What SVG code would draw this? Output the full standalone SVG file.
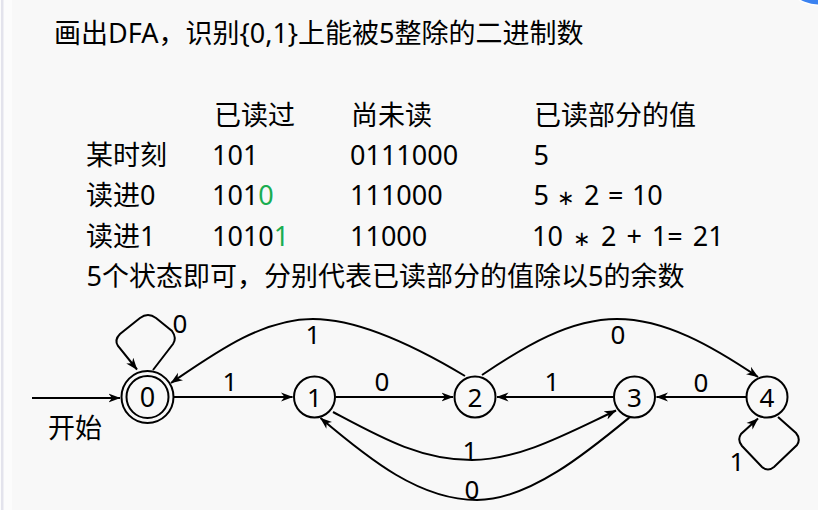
<svg xmlns="http://www.w3.org/2000/svg" width="818" height="510" viewBox="0 0 818 510">
<defs>
<style>
.t{font-family:"Noto Sans","Noto Sans CJK SC",sans-serif;font-size:27px;fill:#000}
.g{fill:#1aad50}
.s{font-size:21px}
.lbl{font-family:"Noto Sans","Noto Sans CJK SC",sans-serif;font-size:26px;fill:#000;text-anchor:middle}
.nd{fill:none;stroke:#000;stroke-width:2}
.e{fill:none;stroke:#000;stroke-width:2;marker-end:url(#arr)}
</style>
<marker id="arr" viewBox="0 0 12 10" refX="11.5" refY="5" markerWidth="12" markerHeight="10" markerUnits="userSpaceOnUse" orient="auto">
<path d="M0,0.5 L12,5 L0,9.5 L3.5,5 z" fill="#000"/>
</marker>
</defs>
<rect x="0" y="0" width="818" height="510" fill="#f8f8f8"/>
<rect x="0" y="0" width="12" height="510" fill="#fcfcfc"/>
<rect x="1" y="0" width="2.5" height="510" fill="#e3e3ec"/>
<circle cx="818" cy="-30" r="36" fill="#ffffff"/>
<circle cx="818" cy="-30" r="34.5" fill="#3b82f0"/>

<g id="text">
<text class="t" x="54" y="43">画出DFA，识别{0,1}上能被5整除的二进制数</text>
<text class="t" x="214" y="124.5">已读过</text>
<text class="t" x="351" y="124.5">尚未读</text>
<text class="t" x="534" y="124.5">已读部分的值</text>
<text class="t" x="86" y="164.5">某时刻</text>
<text class="t" x="212" y="164.5">101</text>
<text class="t" x="350" y="164.5">0111000</text>
<text class="t" x="533.5" y="164.5">5</text>
<text class="t" x="86" y="205">读进0</text>
<text class="t" x="212" y="205">101<tspan class="g">0</tspan></text>
<text class="t" x="350" y="205">111000</text>
<text class="t" x="533.5" y="205" word-spacing="1.5">5 <tspan class="s">∗</tspan> 2 = 10</text>
<text class="t" x="86" y="246">读进1</text>
<text class="t" x="212" y="246">1010<tspan class="g">1</tspan></text>
<text class="t" x="350" y="246">11000</text>
<text class="t" x="532" y="246" word-spacing="3">10 <tspan class="s">∗</tspan> 2 + 1= 21</text>
<text class="t" x="86.5" y="286">5个状态即可，分别代表已读部分的值除以5的余数</text>
<text class="t" x="48" y="438">开始</text>
</g>

<g id="connectors">
<path class="e" d="M32,398 L120,398"/>
<path class="e" d="M174,397 L292.5,397"/>
<path class="e" d="M336,397 L453,397"/>
<path class="e" d="M613,397 L497,397"/>
<path class="e" d="M746,397 L656.5,397"/>
<path class="e" d="M465,376 C420,349 362,319 313,319 C262,319 215,353 171,383"/>
<path class="e" d="M482,375 C525,346 570,319 617,319 C665,319 712,346 758,377"/>
<path class="e" d="M333,412 C380,437 420,460 472,460 C520,460 570,432 616,410.5"/>
<path class="e" d="M630,417 C590,450 530,500 477,500 C420,500 370,460 320.5,418"/>
<path class="e" d="M153,370 L173,344 Q177,338 172,331 L156,318 Q148,312 140,318 L120,334 Q114,340 118,346 L137,369.5"/>
<path class="e" d="M778,417 L796,433 Q801,439 797,445 L774,467 Q768,472 762,467 L742,446 Q737,440 741,434 L758,418.5"/>
<text class="lbl" x="180" y="333">0</text>
<text class="lbl" x="313" y="344">1</text>
<text class="lbl" x="230" y="391">1</text>
<text class="lbl" x="382" y="391">0</text>
<text class="lbl" x="618" y="344">0</text>
<text class="lbl" x="552" y="391">1</text>
<text class="lbl" x="701" y="392">0</text>
<text class="lbl" x="470" y="460">1</text>
<text class="lbl" x="472" y="499">0</text>
<text class="lbl" x="737" y="471">1</text>
</g>

<g id="node0">
<circle class="nd" cx="147.5" cy="397" r="26"/>
<circle class="nd" cx="147.5" cy="397" r="21"/>
<text class="lbl" x="147.5" y="407" style="font-size:27px">0</text>
</g>
<g id="node1">
<circle class="nd" cx="314.5" cy="397" r="20.5"/>
<text class="lbl" x="314.5" y="406.5">1</text>
</g>
<g id="node2">
<circle class="nd" cx="475" cy="397" r="20.5"/>
<text class="lbl" x="475" y="406.5">2</text>
</g>
<g id="node3">
<circle class="nd" cx="634.5" cy="397" r="20.5"/>
<text class="lbl" x="634.5" y="406.5">3</text>
</g>
<g id="node4">
<circle class="nd" cx="767" cy="397" r="20.5"/>
<text class="lbl" x="767" y="406.5">4</text>
</g>
</svg>
